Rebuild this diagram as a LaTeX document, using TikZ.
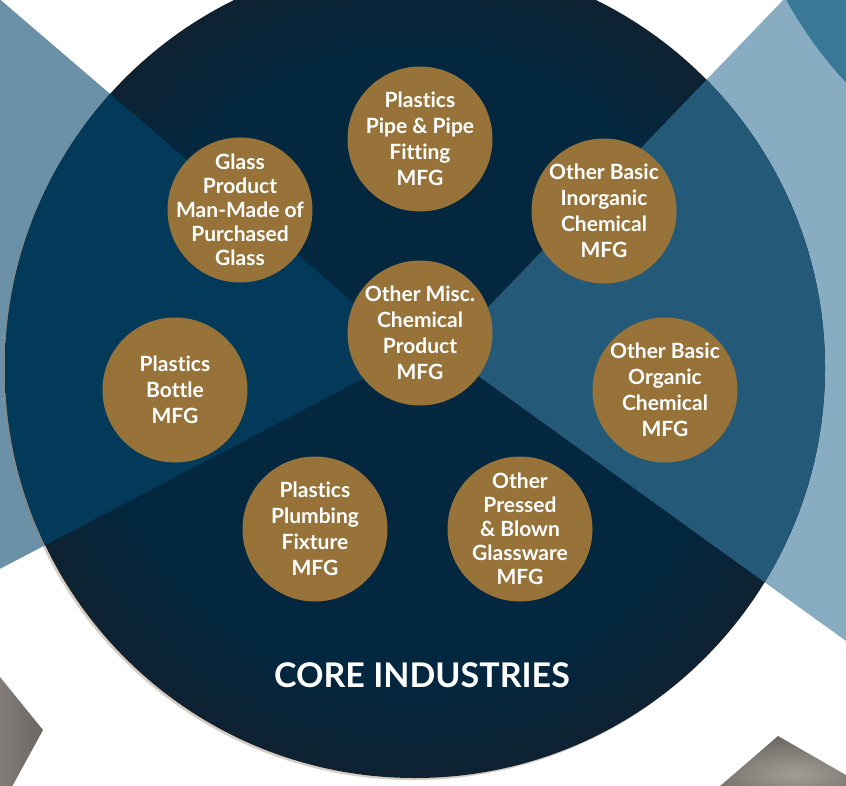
\documentclass[tikz,border=0pt]{standalone}
\usepackage{fontspec}
\setmainfont{Lato}[Ligatures=NoCommon]
\usetikzlibrary{positioning}

\definecolor{navyin}{HTML}{02273F}
\definecolor{navyout}{HTML}{0E2232}
\definecolor{leftband}{HTML}{6A91A7}
\definecolor{leftinner}{HTML}{033A5A}
\definecolor{rightband}{HTML}{88ADC3}
\definecolor{rightinner}{HTML}{245A78}
\definecolor{topdisc}{HTML}{3A7898}
\definecolor{gold}{HTML}{97733A}
\definecolor{greylight}{HTML}{A29C96}
\definecolor{greydark}{HTML}{6C6762}

\pgfdeclareradialshading{corefade}{\pgfpoint{0bp}{0bp}}{color(0bp)=(navyin); color(19bp)=(navyin); color(25bp)=(navyout); color(50bp)=(navyout)}

\begin{document}
\begin{tikzpicture}[x=1pt,y=-1pt,
  industry/.style={circle, fill=gold, minimum size=145pt, inner sep=-20pt, text=white, align=center, font=\fontsize{21}{26}\selectfont\bfseries},
  tallindustry/.style={industry, font=\fontsize{21}{24}\selectfont\bfseries}]

\useasboundingbox (0,0) rectangle (846,785);
\clip (0,0) rectangle (846,785);

% Outer bands and neighbour discs
\coordinate (core) at (415,368);
\coordinate (lefttip) at (412,353);
\coordinate (righttip) at (445,352);
\fill[leftband] (lefttip) -- (-300,-258) -- (-300,726) -- cycle;
\fill[rightband] (righttip) -- (1200,-434) -- (1200,896) -- cycle;
\fill[topdisc] (1150,-200) circle (415);
\shade[left color=greylight, right color=greydark] (-60,603) -- (43,730) -- (-10,827) -- (-60,827) -- cycle;
\shade[inner color=greylight, outer color=greydark] (778,736) -- (690,812) -- (900,812) -- (900,806) -- cycle;

% Core disc with a soft shadow
\fill[brown!40!gray, opacity=.4] ([shift={(-2,2)}]core) circle (410);
\shade[shading=corefade] (core) circle (410);
\begin{scope}
  \clip (core) circle (410);
  \fill[leftinner] (lefttip) -- (-300,-258) -- (-300,726) -- cycle;
  \fill[rightinner] (righttip) -- (1200,-434) -- (1200,896) -- cycle;
\end{scope}

% Industry circles
\node[industry] (pipe) at (420,139) {Plastics\\Pipe \& Pipe\\Fitting\\MFG};
\node[tallindustry] (glass) at (240,210) {Glass\\Product\\Man-Made of\\Purchased\\Glass};
\node[industry] (inorganic) at (604,211) {Other Basic\\Inorganic\\Chemical\\MFG};
\node[industry] (misc) at (420,333) {Other Misc.\\Chemical\\Product\\MFG};
\node[industry] (bottle) at (175,390) {Plastics\\Bottle\\MFG};
\node[industry] (organic) at (665,390) {Other Basic\\Organic\\Chemical\\MFG};
\node[industry] (plumbing) at (315,529) {Plastics\\Plumbing\\Fixture\\MFG};
\node[tallindustry] (glassware) at (520,529) {Other\\Pressed\\\& Blown\\Glassware\\MFG};

\node[text=white, font=\fontsize{34}{36}\selectfont\bfseries] (title) at (422,675) {CORE INDUSTRIES};

\end{tikzpicture}
\end{document}
